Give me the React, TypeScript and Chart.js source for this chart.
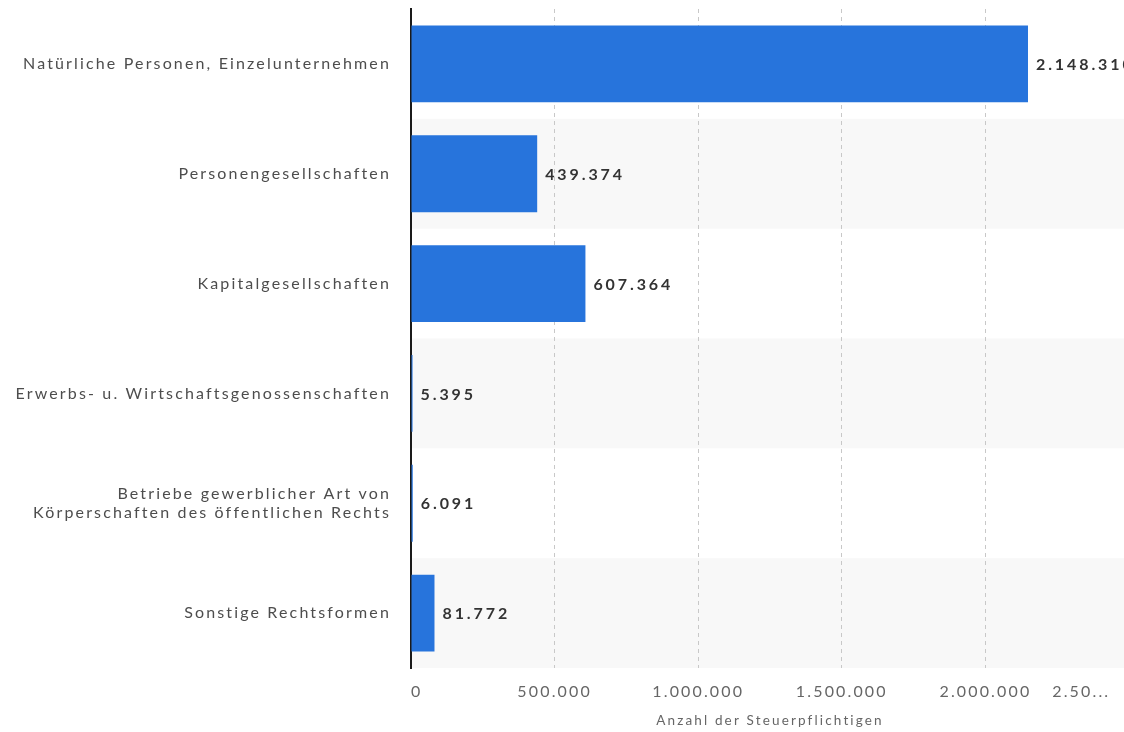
import React, { useEffect, useRef } from 'react';
import { Chart, registerables } from 'chart.js';

Chart.register(...registerables);

const categories: (string | string[])[] = [
  'Natürliche Personen, Einzelunternehmen',
  'Personengesellschaften',
  'Kapitalgesellschaften',
  'Erwerbs- u. Wirtschaftsgenossenschaften',
  ['Betriebe gewerblicher Art von', 'Körperschaften des öffentlichen Rechts'],
  'Sonstige Rechtsformen',
];
const values = [2148310, 439374, 607364, 5395, 6091, 81772];
const xTickValues = [0, 500000, 1000000, 1500000, 2000000, 2500000];
const lastTickLabel = '2.50...';
const xTitle = 'Anzahl der Steuerpflichtigen';

const FONT = "Lato, 'Noto Sans', sans-serif";
const BAR_COLOR = '#2774dc';
const BAND_COLOR = '#f8f8f8';
const SPACING = '2.15px';

function fmt(n: number): string {
  return String(n).replace(/\B(?=(\d{3})+(?!\d))/g, '.');
}

const spacingPlugin = {
  id: 'spacing',
  beforeInit(chart: any) {
    chart.ctx.letterSpacing = SPACING;
  },
  beforeLayout(chart: any) {
    chart.ctx.letterSpacing = SPACING;
  },
  beforeDraw(chart: any) {
    chart.ctx.letterSpacing = SPACING;
  },
};

const bandsPlugin = {
  id: 'bands',
  beforeDraw(chart: any) {
    const { ctx, chartArea, scales } = chart;
    const y = scales.y;
    const step = y.getPixelForValue(1) - y.getPixelForValue(0);
    ctx.save();
    ctx.fillStyle = BAND_COLOR;
    for (let i = 1; i < categories.length; i += 2) {
      const c = y.getPixelForValue(i);
      ctx.fillRect(chartArea.left, c - step / 2, chartArea.right - chartArea.left + 20, step);
    }
    ctx.restore();
  },
};

const labelsPlugin = {
  id: 'valueLabels',
  afterDatasetsDraw(chart: any) {
    const { ctx } = chart;
    const meta = chart.getDatasetMeta(0);
    ctx.save();
    ctx.letterSpacing = '2.9px';
    ctx.font = `bold 16px ${FONT}`;
    ctx.fillStyle = '#333333';
    ctx.textAlign = 'left';
    ctx.textBaseline = 'middle';
    meta.data.forEach((bar: any, i: number) => {
      ctx.fillText(fmt(values[i]), bar.x + 8, bar.y + 1);
    });
    ctx.restore();
  },
};

export default function App() {
  const ref = useRef<HTMLCanvasElement | null>(null);

  useEffect(() => {
    if (!ref.current) return;
    const chart = new Chart(ref.current, {
      type: 'bar',
      data: {
        labels: categories as any,
        datasets: [
          {
            data: values,
            backgroundColor: BAR_COLOR,
            borderWidth: 0,
            barPercentage: 0.7,
            categoryPercentage: 1,
          },
        ],
      },
      plugins: [spacingPlugin, bandsPlugin, labelsPlugin],
      options: {
        indexAxis: 'y',
        responsive: false,
        animation: false,
        layout: { padding: { top: 9, right: 0, left: 0, bottom: 0 } },
        plugins: {
          legend: { display: false },
          tooltip: { enabled: false },
        },
        scales: {
          x: {
            type: 'linear',
            min: 0,
            max: 2500000,
            afterBuildTicks(scale: any) {
              scale.ticks = xTickValues.map((v) => ({ value: v }));
            },
            afterFit(scale: any) {
              scale.height = 64;
              scale.paddingLeft = 0;
              scale.paddingRight = 0;
            },
            ticks: {
              align: 'inner',
              padding: 14,
              color: '#666666',
              font: { family: FONT, size: 16 },
              callback(v: any) {
                const n = Number(v);
                return n === xTickValues[xTickValues.length - 1] ? lastTickLabel + '   ' : fmt(n);
              },
            },
            grid: {
              drawTicks: false,
              lineWidth: 1,
              color: (c: any) => (c.tick && c.tick.value === 0 ? 'rgba(0,0,0,0)' : '#c8c8c8'),
            },
            border: { display: false, dash: [4, 4] },
            title: {
              display: true,
              text: xTitle,
              color: '#666666',
              font: { family: FONT, size: 13.5 },
              padding: { top: 2, bottom: 3 },
            },
          },
          y: {
            type: 'category',
            afterFit(scale: any) {
              scale.width = 411;
              scale.paddingTop = 0;
              scale.paddingBottom = 0;
            },
            ticks: {
              padding: 20,
              color: '#4d4d4d',
              font: { family: FONT, size: 16 },
            },
            grid: { display: false, drawTicks: false },
            border: { display: true, color: '#1a1a1a', width: 2 },
          },
        },
      },
    } as any);
    return () => chart.destroy();
  }, []);

  return (
    <div
      style={{
        position: 'fixed',
        left: 0,
        top: 0,
        width: 1124,
        height: 732,
        overflow: 'hidden',
        background: '#ffffff',
      }}
    >
      <canvas ref={ref} width={1129} height={732} style={{ width: 1129, height: 732, display: 'block' }} />
    </div>
  );
}
